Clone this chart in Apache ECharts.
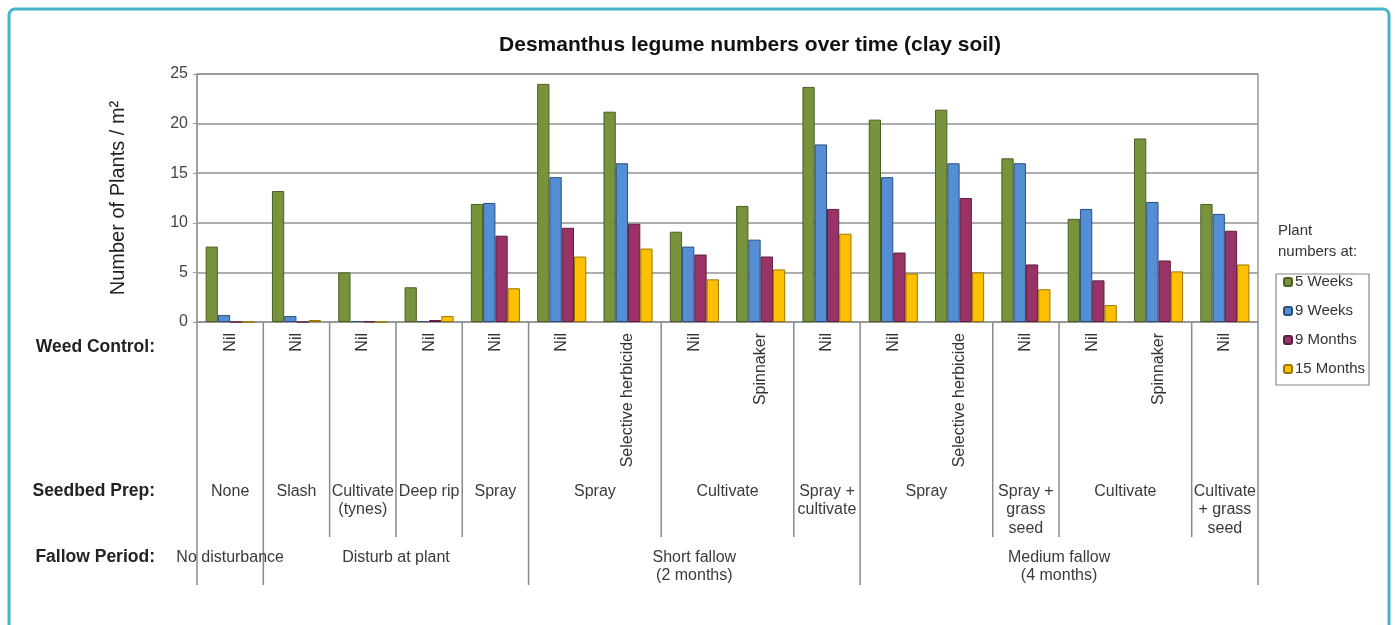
<!DOCTYPE html>
<html>
<head>
<meta charset="utf-8">
<script src="https://cdn.jsdelivr.net/npm/echarts@6/dist/echarts.min.js"></script>
<style>
html,body{margin:0;padding:0;background:#fff;}
#chart{width:1395px;height:625px;}
</style>
</head>
<body>
<div id="chart"></div>
<script>
const titleText = 'Desmanthus legume numbers over time (clay soil)';
const yAxisName = 'Number of Plants / m\u00B2';
const yTicks = [0, 5, 10, 15, 20, 25];
const weedControl = ['Nil','Nil','Nil','Nil','Nil','Nil','Selective herbicide','Nil','Spinnaker','Nil','Nil','Selective herbicide','Nil','Nil','Spinnaker','Nil'];
const seriesNames = ['5 Weeks','9 Weeks','9 Months','15 Months'];
const weeks5   = [7.6, 13.2, 5.0, 3.5, 11.9, 24.0, 21.2, 9.1, 11.7, 23.7, 20.4, 21.4, 16.5, 10.4, 18.5, 11.9];
const weeks9   = [0.7, 0.6, 0.1, 0.1, 12.0, 14.6, 16.0, 7.6, 8.3, 17.9, 14.6, 16.0, 16.0, 11.4, 12.1, 10.9];
const months9  = [0.0, 0.0, 0.05, 0.2, 8.7, 9.5, 9.9, 6.8, 6.6, 11.4, 7.0, 12.5, 5.8, 4.2, 6.2, 9.2];
const months15 = [0.0, 0.2, 0.0, 0.6, 3.4, 6.6, 7.4, 4.3, 5.3, 8.9, 4.9, 5.0, 3.3, 1.7, 5.1, 5.8];
const seedbedLabels = ['None','Slash','Cultivate\n(tynes)','Deep rip','Spray','Spray','Cultivate','Spray +\ncultivate','Spray','Spray +\ngrass\nseed','Cultivate','Cultivate\n+ grass\nseed'];
const seedbedSpans  = [1,1,1,1,1,2,2,1,2,1,2,1];
const fallowLabels = ['No disturbance','Disturb at plant','Short fallow\n(2 months)','Medium fallow\n(4 months)'];
const fallowSpans  = [1,4,5,6];
const rowHeaders = ['Weed Control:','Seedbed Prep:','Fallow Period:'];
const legendTitle = 'Plant\nnumbers at:';

const FONT = '"Liberation Sans", Arial, sans-serif';
const fills = ['#77933C','#558ED5','#993366','#FFC000'];
const borders = ['#4A5F22','#2A4F7F','#5E1E40','#9A7600'];
const values = [weeks5, weeks9, months9, months15];

const chart = echarts.init(document.getElementById('chart'), null, {renderer:'canvas'});

const option = {
  backgroundColor: '#ffffff',
  animation: false,
  title: {
    text: titleText, left: 745, top: 30, textAlign: 'center',
    textStyle: {fontFamily: FONT, fontSize: 21, fontWeight: 'bold', color: '#111'}
  },
  grid: {left: 197, right: 137, top: 74, bottom: 303, show: true, borderColor: '#999', borderWidth: 1.5, backgroundColor: 'transparent'},
  legend: {
    orient: 'vertical', left: 1276, top: 274,
    data: seriesNames,
    itemWidth: 8, itemHeight: 8, itemGap: 13,
    padding: [0, 4, 8, 7],
    borderColor: '#888', borderWidth: 1.2,
    textStyle: {fontFamily: FONT, fontSize: 15, color: '#333', lineHeight: 16, padding: [0,0,0,-2]}
  },
  xAxis: {
    type: 'category', data: weedControl,
    axisLine: {show: true, lineStyle: {color: '#999', width: 1.5}},
    axisTick: {show: false},
    axisLabel: {interval: 0, rotate: 90, margin: 11, fontFamily: FONT, fontSize: 16, color: '#333'},
    splitLine: {show: false}
  },
  yAxis: {
    type: 'value', min: 0, max: 25, interval: 5,
    name: yAxisName, nameLocation: 'middle', nameGap: 69, nameRotate: 90,
    nameTextStyle: {fontFamily: FONT, fontSize: 20, color: '#222'},
    axisLine: {show: true, lineStyle: {color: '#999', width: 1.5}},
    axisTick: {show: true, length: 4, lineStyle: {color: '#999'}},
    axisLabel: {margin: 9, fontFamily: FONT, fontSize: 16, color: '#444',
      formatter: v => yTicks.indexOf(v) >= 0 ? String(v) : ''},
    splitLine: {show: true, lineStyle: {color: '#929292', width: 1.6}}
  },
  series: seriesNames.map((n, i) => ({
    name: n, type: 'bar', data: values[i],
    barGap: '0%', barCategoryGap: '26%',
    itemStyle: {color: fills[i], borderColor: borders[i], borderWidth: 1}
  }))
};
chart.setOption(option);

function buildGraphics() {
  const c0 = chart.convertToPixel({xAxisIndex: 0}, 0);
  const c1 = chart.convertToPixel({xAxisIndex: 0}, 1);
  const w = c1 - c0;
  const edge = k => c0 - w / 2 + k * w;
  const y0 = chart.convertToPixel({yAxisIndex: 0}, 0);
  const g = [];
  const lineStyle = {stroke: '#8a8a8a', lineWidth: 1.5};
  const txt = {fontFamily: FONT, fontSize: 16, fill: '#3a3a3a', align: 'center', verticalAlign: 'top', lineHeight: 18.5};

  g.push({type: 'rect', shape: {x: 9, y: 9, width: 1380, height: 650, r: 6},
    style: {fill: 'none', stroke: '#45B3CB', lineWidth: 3}, z: 100});

  const fallowEdges = new Set();
  let k = 0;
  fallowEdges.add(0);
  fallowSpans.forEach(s => { k += s; fallowEdges.add(k); });
  const seedEdges = new Set();
  k = 0; seedEdges.add(0);
  seedbedSpans.forEach(s => { k += s; seedEdges.add(k); });
  seedEdges.forEach(e => {
    const long = fallowEdges.has(e);
    g.push({type: 'line', shape: {x1: edge(e), y1: y0, x2: edge(e), y2: long ? 585 : 537}, style: lineStyle});
  });
  fallowEdges.forEach(e => {
    if (!seedEdges.has(e)) g.push({type: 'line', shape: {x1: edge(e), y1: y0, x2: edge(e), y2: 585}, style: lineStyle});
  });

  k = 0;
  seedbedLabels.forEach((t, i) => {
    const s = seedbedSpans[i];
    const cx = (edge(k) + edge(k + s)) / 2;
    g.push({type: 'text', x: cx, y: 482, style: Object.assign({text: t}, txt)});
    k += s;
  });
  k = 0;
  fallowLabels.forEach((t, i) => {
    const s = fallowSpans[i];
    const cx = (edge(k) + edge(k + s)) / 2;
    g.push({type: 'text', x: cx, y: 548, style: Object.assign({text: t}, txt)});
    k += s;
  });
  const hy = [347, 491, 557];
  rowHeaders.forEach((t, i) => {
    g.push({type: 'text', x: 155, y: hy[i], style: {text: t, fontFamily: FONT, fontSize: 17.5, fontWeight: 'bold', fill: '#222', align: 'right', verticalAlign: 'middle'}});
  });
  g.push({type: 'text', x: 1278, y: 220, style: {text: legendTitle, fontFamily: FONT, fontSize: 15, fill: '#333', align: 'left', verticalAlign: 'top', lineHeight: 21}});
  chart.setOption({graphic: g});
}
buildGraphics();
</script>
</body>
</html>
